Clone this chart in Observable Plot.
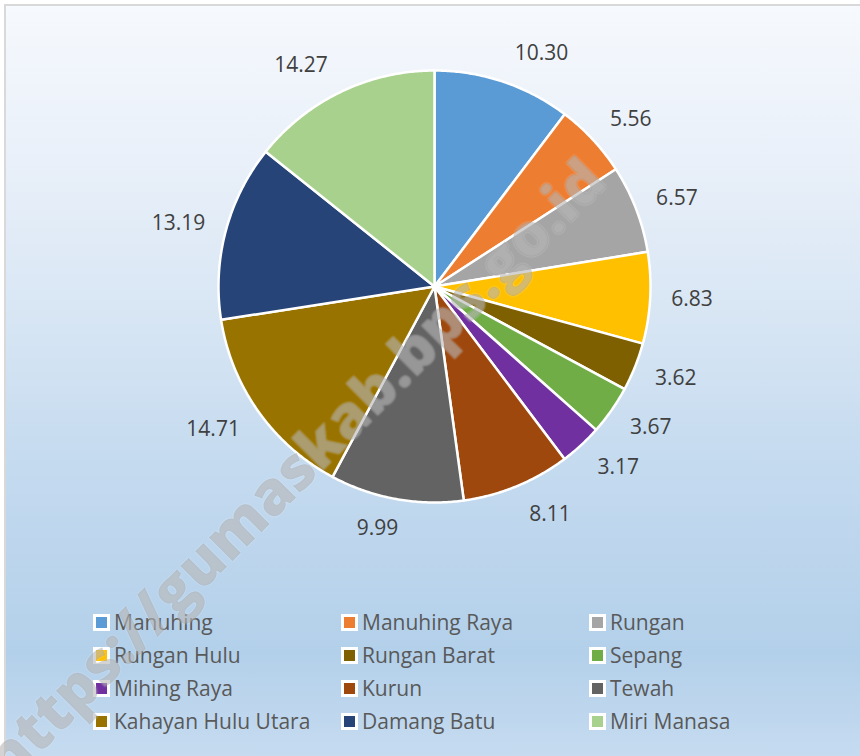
<!DOCTYPE html>
<html>
<head>
<meta charset="utf-8">
<script src="https://cdn.jsdelivr.net/npm/d3@7"></script>
<script src="https://cdn.jsdelivr.net/npm/@observablehq/plot@0.6"></script>
<style>
  html, body { margin: 0; padding: 0; background: #ffffff; }
  #wrap { position: relative; width: 860px; height: 756px; overflow: hidden; font-family: "Open Sans", sans-serif; }
  #bg { position: absolute; left: 4px; top: 4px; width: 870px; height: 770px;
        border-top: 2px solid #d9d9d9; border-left: 2px solid #d9d9d9;
        background: linear-gradient(to bottom, #f6f9fd 0%, #e9f0f9 20%, #d8e6f4 40%, #c4daef 60%, #b3d0ea 84%, #c9ddf1 100%); }
  #chart { position: absolute; left: 0; top: 0; }
  #legend { position: absolute; left: 0; top: 0; width: 860px; height: 756px; }
  .item { position: absolute; display: flex; align-items: center; font-size: 21px; color: #595959; white-space: nowrap; line-height: 1; }
  .sw { display: inline-block; width: 11px; height: 11px; border: 3px solid #ffffff; margin-right: 4px; }
  #wm { position: absolute; left: 293px; top: 468px; transform: translate(-50%, -50%) rotate(-45deg);
        font-family: "Open Sans", sans-serif; font-weight: 800; font-size: 60px; white-space: nowrap;
        color: rgba(110, 110, 110, 0.30); text-shadow: 0 0 2px rgba(255,255,255,0.45); pointer-events: none; }
</style>
</head>
<body>
<div id="wrap">
  <div id="bg"></div>
  <div id="chart"></div>
  <div id="legend"></div>
  <div id="wm">https://gumaskab.bps.go.id</div>
</div>
<script>
// ---- data ----
const names = ["Manuhing", "Manuhing Raya", "Rungan", "Rungan Hulu", "Rungan Barat", "Sepang",
               "Mihing Raya", "Kurun", "Tewah", "Kahayan Hulu Utara", "Damang Batu", "Miri Manasa"];
const values = [10.30, 5.56, 6.57, 6.83, 3.62, 3.67, 3.17, 8.11, 9.99, 14.71, 13.19, 14.27];
const colors = ["#5B9BD5", "#ED7D31", "#A5A5A5", "#FFC000", "#7F6000", "#70AD47",
                "#7030A0", "#9E480E", "#636363", "#997300", "#264478", "#A9D18E"];
const labelTexts = values.map(v => v.toFixed(2));

// ---- layout ----
const W = 860, H = 590;
const cx = 434, cy = 286, r = 216;
const gap = 14;
const labelFont = 21;

const total = d3.sum(values);
let cum = 0;
const slicePts = [];
const labels = [];
const canvas = document.createElement("canvas");
const ctx = canvas.getContext("2d");
ctx.font = `${labelFont}px "Open Sans"`;

names.forEach((name, i) => {
  const a0 = cum / total * 2 * Math.PI;
  cum += values[i];
  const a1 = cum / total * 2 * Math.PI;
  const n = Math.max(2, Math.ceil((a1 - a0) / (Math.PI / 360)));
  slicePts.push({name, x: 0, y: 0});
  for (let k = 0; k <= n; k++) {
    const a = a0 + (a1 - a0) * k / n;
    slicePts.push({name, x: Math.sin(a), y: Math.cos(a)});
  }
  // outside-end label: box beside the anchor point, pushed sideways like Excel does
  const m = (a0 + a1) / 2;
  const s = Math.sin(m), c = Math.cos(m);
  const w = ctx.measureText(labelTexts[i]).width;
  const dxPx = Math.sign(s) * (w / 2 + 7) * Math.min(1, Math.abs(s) / 0.3);
  const dyPx = 16 * c;
  labels.push({
    t: labelTexts[i],
    x: ((r + gap) * s + dxPx) / r,
    y: ((r + gap) * c + dyPx) / r
  });
});

const plot = Plot.plot({
  width: W,
  height: H,
  margin: 0,
  x: {domain: [-1, 1], range: [cx - r, cx + r], axis: null},
  y: {domain: [-1, 1], range: [cy + r, cy - r], axis: null},
  color: {domain: names, range: colors},
  style: {background: "transparent", fontFamily: "Open Sans, sans-serif", overflow: "visible"},
  marks: [
    Plot.line(slicePts, {x: "x", y: "y", z: "name", fill: "name", stroke: "white",
      strokeWidth: 2.5, strokeLinejoin: "round", curve: "linear-closed"}),
    Plot.text(labels, {x: "x", y: "y", text: "t", fontSize: labelFont, fill: "#404040",
      textAnchor: "middle", lineAnchor: "middle"})
  ]
});
document.getElementById("chart").appendChild(plot);

// ---- legend (3 columns x 4 rows) ----
const legend = document.getElementById("legend");
const colX = [93, 341, 589];
const rowY = [622, 655, 688, 721];
names.forEach((name, i) => {
  const el = document.createElement("div");
  el.className = "item";
  el.style.left = colX[i % 3] + "px";
  el.style.top = (rowY[Math.floor(i / 3)] - 12) + "px";
  el.style.height = "24px";
  const sw = document.createElement("span");
  sw.className = "sw";
  sw.style.background = colors[i];
  el.appendChild(sw);
  el.appendChild(document.createTextNode(name));
  legend.appendChild(el);
});
</script>
</body>
</html>
